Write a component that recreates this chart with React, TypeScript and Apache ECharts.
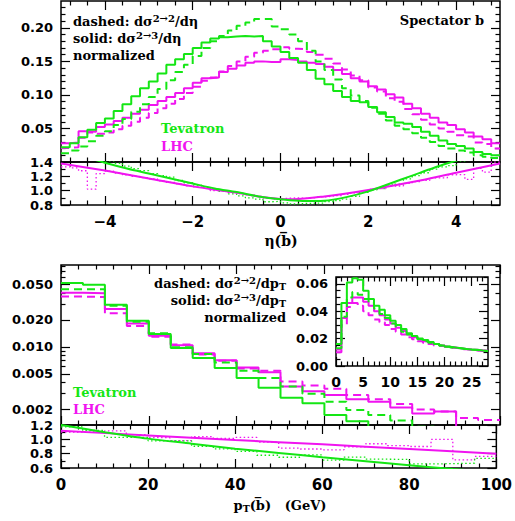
import React, { useEffect, useRef } from 'react';
import * as echarts from 'echarts';

const GREEN = '#14e614';
const MAGENTA = '#f014f0';
const SANS = 'DejaVu Sans';
const SERIF = 'DejaVu Serif';

// ---------- eta(bbar): 50 bins of 0.2 from -5 to 5 ----------
const etaLo = -5;
const etaW = 0.2;
const tevEta23 = [0.022, 0.028, 0.037, 0.048, 0.058, 0.065, 0.076, 0.086, 0.098, 0.110,
  0.120, 0.132, 0.145, 0.153, 0.161, 0.170, 0.178, 0.184, 0.186, 0.187,
  0.188, 0.187, 0.188, 0.180, 0.172, 0.164, 0.155, 0.148, 0.137, 0.124,
  0.116, 0.106, 0.097, 0.091, 0.089, 0.082, 0.074, 0.067, 0.059, 0.057,
  0.052, 0.045, 0.039, 0.032, 0.027, 0.024, 0.020, 0.015, 0.012, 0.010];
const tevEta22 = [0.013, 0.017, 0.023, 0.031, 0.039, 0.046, 0.055, 0.064, 0.075, 0.086,
  0.097, 0.109, 0.122, 0.134, 0.145, 0.158, 0.170, 0.180, 0.188, 0.196,
  0.203, 0.208, 0.213, 0.213, 0.202, 0.198, 0.190, 0.180, 0.166, 0.150,
  0.137, 0.123, 0.110, 0.099, 0.091, 0.081, 0.072, 0.062, 0.054, 0.049,
  0.043, 0.036, 0.030, 0.024, 0.020, 0.017, 0.014, 0.010, 0.008, 0.006];
const lhcEta23 = [0.028, 0.029, 0.046, 0.045, 0.052, 0.056, 0.061, 0.066, 0.072, 0.078,
  0.085, 0.091, 0.097, 0.103, 0.110, 0.118, 0.125, 0.126, 0.134, 0.139,
  0.144, 0.148, 0.150, 0.149, 0.149, 0.153, 0.152, 0.150, 0.148, 0.146,
  0.142, 0.137, 0.131, 0.125, 0.120, 0.113, 0.108, 0.101, 0.096, 0.087,
  0.080, 0.072, 0.066, 0.059, 0.055, 0.049, 0.044, 0.038, 0.034, 0.028];
const lhcEta22 = [0.021, 0.022, 0.036, 0.044, 0.042, 0.044, 0.049, 0.054, 0.060, 0.066,
  0.073, 0.080, 0.087, 0.094, 0.103, 0.112, 0.121, 0.126, 0.135, 0.143,
  0.150, 0.157, 0.163, 0.166, 0.168, 0.171, 0.169, 0.168, 0.164, 0.160,
  0.154, 0.147, 0.138, 0.129, 0.122, 0.111, 0.105, 0.095, 0.090, 0.079,
  0.071, 0.063, 0.056, 0.050, 0.045, 0.040, 0.038, 0.029, 0.027, 0.020];
const tevEtaFitX = [-5, -4.5, -4, -3.5, -3, -2.5, -2, -1.5, -1, -0.5, 0, 0.5, 1, 1.5, 2, 2.5, 3, 3.5, 4, 4.5, 5];
const tevEtaFitY = [1.58, 1.48, 1.39, 1.31, 1.24, 1.17, 1.10, 1.03, 0.98, 0.92, 0.88, 0.855, 0.86, 0.91, 0.99, 1.10, 1.21, 1.32, 1.42, 1.52, 1.62];
const lhcEtaFitX = [-5, -4, -3, -2, -1, -0.5, 0, 0.3, 1, 2, 3, 4, 5];
const lhcEtaFitY = [1.38, 1.28, 1.17, 1.06, 0.97, 0.92, 0.885, 0.88, 0.92, 1.01, 1.12, 1.25, 1.38];

// ---------- pT(bbar): 20 bins of 5 GeV ----------
const ptLo = 0;
const ptW = 5;
const tevPt23 = [0.0517, 0.0495, 0.0296, 0.0196, 0.0139, 0.0097, 0.0075, 0.0058, 0.0045, 0.0035,
  0.0027, 0.00235, 0.00173, 0.00148, 0.00125, 0.00108, 0.00084, 0.00078, 0.00072, 0.00072];
const tevPt22 = [0.0440, 0.0440, 0.0288, 0.0191, 0.0142, 0.0099, 0.0083, 0.0067, 0.0054, 0.0045,
  0.0036, 0.0030, 0.00244, 0.00197, 0.00173, 0.0015, 0.00128, 0.00118, 0.00108, 0.00098];
const lhcPt23 = [0.0402, 0.0397, 0.0265, 0.0182, 0.0133, 0.0104, 0.0085, 0.0071, 0.0059, 0.0052,
  0.0036, 0.0032, 0.0029, 0.0026, 0.00244, 0.0021, 0.0018, 0.0019, 0.00114, 0.00116];
const lhcPt22 = [0.0365, 0.0360, 0.0237, 0.0171, 0.0130, 0.0106, 0.0082, 0.0070, 0.00575, 0.0054,
  0.0041, 0.0037, 0.0034, 0.0029, 0.0026, 0.0023, 0.0020, 0.0019, 0.0016, 0.00152];
const tevPtFitX = [0, 10, 20, 30, 40, 50, 60, 70, 80, 90, 100];
const tevPtFitY = [1.20, 1.10, 1.01, 0.94, 0.87, 0.81, 0.75, 0.695, 0.64, 0.585, 0.54];
const lhcPtFitX = [0, 20, 40, 60, 80, 100];
const lhcPtFitY = [1.12, 1.055, 0.99, 0.93, 0.865, 0.80];
const ptLogMin = 0.00134;
const ptLogMax = 0.0822;
const ptMajorTicks = [0.002, 0.005, 0.01, 0.02, 0.05];
const ptMinorTicks = [0.003, 0.004, 0.006, 0.007, 0.008, 0.009, 0.03, 0.04, 0.06, 0.07, 0.08];

// ---------- inset: 28 bins of 1 GeV ----------
const insLo = 0;
const insW = 1;
const tevIns23 = [0.016, 0.046, 0.061, 0.064, 0.063, 0.055, 0.049, 0.044, 0.041, 0.037, 0.033, 0.030, 0.027, 0.024,
  0.022, 0.020, 0.019, 0.0175, 0.016, 0.015, 0.014, 0.0135, 0.013, 0.0125, 0.012, 0.0118, 0.0113, 0.011];
const tevIns22 = [0.013, 0.036, 0.050, 0.054, 0.052, 0.049, 0.046, 0.042, 0.038, 0.035, 0.031, 0.028, 0.025, 0.023,
  0.021, 0.0195, 0.018, 0.017, 0.016, 0.015, 0.0142, 0.0135, 0.013, 0.0125, 0.012, 0.0117, 0.0113, 0.011];
const lhcIns23 = [0.012, 0.035, 0.046, 0.050, 0.050, 0.047, 0.044, 0.040, 0.037, 0.034, 0.031, 0.028, 0.0255, 0.023,
  0.021, 0.0195, 0.018, 0.017, 0.016, 0.015, 0.014, 0.0135, 0.013, 0.0125, 0.012, 0.0118, 0.0115, 0.0112];
const lhcIns22 = [0.010, 0.030, 0.043, 0.046, 0.044, 0.040, 0.037, 0.034, 0.032, 0.030, 0.027, 0.025, 0.023, 0.021,
  0.0195, 0.018, 0.017, 0.016, 0.015, 0.0145, 0.014, 0.0133, 0.0128, 0.0122, 0.0118, 0.0114, 0.011, 0.0108];

// ---------- helpers ----------
function ticks(a: number, b: number, step: number, skip: number[] = []) {
  const out: number[] = [];
  const n = Math.round((b - a) / step);
  for (let i = 0; i <= n; i++) {
    const v = +(a + i * step).toFixed(6);
    if (!skip.some((s) => Math.abs(s - v) < 1e-9)) out.push(v);
  }
  return out;
}

const TICK = { color: '#000', width: 1.2 };

function addAxes(list: any[], grid: number, dim: 'x' | 'y', min: number, max: number,
  majors: number[], minors: number[], label: any) {
  const first = list.length;
  const sides = dim === 'x' ? ['bottom', 'top'] : ['left', 'right'];
  sides.forEach((pos, si) => {
    const defs: [number[], number][] = [[majors, 9], [minors, 4.5]];
    defs.forEach(([vals, len], ti) => {
      list.push({
        type: 'value', gridIndex: grid, min, max, position: pos,
        axisLine: { show: false, onZero: false },
        splitLine: { show: false },
        axisTick: { show: vals.length > 0, inside: true, length: len, customValues: vals, lineStyle: TICK },
        axisLabel: si === 0 && ti === 0 && label
          ? { show: true, customValues: majors, color: '#000', fontFamily: SANS, fontWeight: 'bold', ...label }
          : { show: false },
      });
    });
  });
  return first;
}

function stepPts(lo: number, w: number, vals: number[], tf: (v: number) => number = (v) => v) {
  const pts = vals.map((v, i) => [+(lo + i * w).toFixed(6), tf(v)]);
  pts.push([+(lo + vals.length * w).toFixed(6), tf(vals[vals.length - 1])]);
  return pts;
}

function ser(xi: number, yi: number, data: number[][], color: string, kind: 'solid' | 'dash' | 'dot' | 'fit') {
  return {
    type: 'line', xAxisIndex: xi, yAxisIndex: yi, data,
    step: kind === 'fit' ? false : 'end',
    smooth: kind === 'fit' ? 0.3 : false,
    showSymbol: false, symbol: 'none', silent: true, clip: true,
    lineStyle: {
      color, width: kind === 'dot' ? 1.3 : 2,
      type: kind === 'dash' ? [8, 5] : kind === 'dot' ? [1.5, 2.5] : 'solid',
    },
  };
}

const minus = (v: number) => (v < 0 ? '\u2212' + Math.abs(v) : String(v));

function richFor(color: string) {
  return {
    t: { fontFamily: SERIF, fontWeight: 'bold', fontSize: 13, lineHeight: 16, fill: color, color },
    s: { fontFamily: SERIF, fontWeight: 'bold', fontSize: 10, lineHeight: 10, verticalAlign: 'top', fill: color, color },
    b: { fontFamily: SERIF, fontWeight: 'bold', fontSize: 9.5, lineHeight: 9, verticalAlign: 'bottom', fill: color, color },
    x: { fontFamily: SERIF, fontWeight: 'bold', fontSize: 14, lineHeight: 18, fill: color, color },
  };
}

function txt(x: number, y: number, text: string, align: string, color = '#000') {
  return {
    type: 'text', x, y, silent: true, z: 100,
    style: {
      text, fill: color, align, verticalAlign: 'middle', textAlign: align, textVerticalAlign: 'middle',
      font: `bold 13px "${SERIF}"`, rich: richFor(color),
    },
  };
}

export default function App() {
  const ref = useRef<HTMLDivElement>(null);
  useEffect(() => {
    if (!ref.current) return;
    const chart = echarts.init(ref.current, undefined, { renderer: 'svg' });
    const xAxes: any[] = [];
    const yAxes: any[] = [];
    const lg = Math.log10;

    const etaMaj = [-4, -2, 0, 2, 4];
    const etaMin = ticks(-4.8, 4.8, 0.4, etaMaj);
    const ptMaj = [0, 20, 40, 60, 80, 100];
    const ptMin = ticks(0, 100, 4, ptMaj);

    // grid 0: eta main
    const x0 = addAxes(xAxes, 0, 'x', -5, 5, etaMaj, etaMin, null);
    const y0 = addAxes(yAxes, 0, 'y', 0, 0.24, [0.05, 0.1, 0.15, 0.2], ticks(0.01, 0.23, 0.01, [0.05, 0.1, 0.15, 0.2]),
      { fontSize: 13, margin: 8, formatter: (v: number) => v.toFixed(2) });
    // grid 1: eta ratio
    const x1 = addAxes(xAxes, 1, 'x', -5, 5, etaMaj, etaMin, { fontSize: 15, margin: 9, formatter: minus });
    const y1 = addAxes(yAxes, 1, 'y', 0.8, 1.4, [0.8, 1.0, 1.2, 1.4], [0.9, 1.1, 1.3],
      { fontSize: 13, margin: 8, formatter: (v: number) => v.toFixed(1) });
    // grid 2: pT main (log)
    const x2 = addAxes(xAxes, 2, 'x', 0, 100, ptMaj, ptMin, null);
    const y2 = addAxes(yAxes, 2, 'y', lg(ptLogMin), lg(ptLogMax), ptMajorTicks.map(lg), ptMinorTicks.map(lg),
      { fontSize: 13, margin: 8, formatter: (v: number) => Math.pow(10, v).toFixed(3) });
    // grid 3: pT ratio
    const x3 = addAxes(xAxes, 3, 'x', 0, 100, ptMaj, ptMin, { fontSize: 15, margin: 9, formatter: (v: number) => String(v) });
    const y3 = addAxes(yAxes, 3, 'y', 0.6, 1.2, [0.6, 0.8, 1.0, 1.2], [0.7, 0.9, 1.1],
      { fontSize: 13, margin: 8, formatter: (v: number) => v.toFixed(1) });
    // grid 4: inset
    const x4 = addAxes(xAxes, 4, 'x', 0, 28, [0, 5, 10, 15, 20, 25], ticks(1, 27, 1, [5, 10, 15, 20, 25]),
      { fontSize: 14, margin: 9, formatter: (v: number) => String(v) });
    const y4 = addAxes(yAxes, 4, 'y', 0, 0.065, [0, 0.02, 0.04, 0.06], ticks(0.005, 0.065, 0.005, [0.02, 0.04, 0.06]),
      { fontSize: 13, margin: 8, formatter: (v: number) => v.toFixed(2) });

    const ratio = (a: number[], b: number[]) => a.map((v, i) => v / b[i]);
    const fit = (xs: number[], ys: number[]) => xs.map((x, i) => [x, ys[i]]);

    const series: any[] = [
      // eta main
      ser(x0, y0, stepPts(etaLo, etaW, lhcEta22), MAGENTA, 'dash'),
      ser(x0, y0, stepPts(etaLo, etaW, lhcEta23), MAGENTA, 'solid'),
      ser(x0, y0, stepPts(etaLo, etaW, tevEta22), GREEN, 'dash'),
      ser(x0, y0, stepPts(etaLo, etaW, tevEta23), GREEN, 'solid'),
      // eta ratio
      ser(x1, y1, stepPts(etaLo, etaW, ratio(lhcEta23, lhcEta22)), MAGENTA, 'dot'),
      ser(x1, y1, stepPts(etaLo, etaW, ratio(tevEta23, tevEta22)), GREEN, 'dot'),
      ser(x1, y1, fit(lhcEtaFitX, lhcEtaFitY), MAGENTA, 'fit'),
      ser(x1, y1, fit(tevEtaFitX, tevEtaFitY), GREEN, 'fit'),
      // pT main
      ser(x2, y2, stepPts(ptLo, ptW, lhcPt22, lg), MAGENTA, 'dash'),
      ser(x2, y2, stepPts(ptLo, ptW, lhcPt23, lg), MAGENTA, 'solid'),
      ser(x2, y2, stepPts(ptLo, ptW, tevPt22, lg), GREEN, 'dash'),
      ser(x2, y2, stepPts(ptLo, ptW, tevPt23, lg), GREEN, 'solid'),
      // pT ratio
      ser(x3, y3, stepPts(ptLo, ptW, ratio(lhcPt23, lhcPt22)), MAGENTA, 'dot'),
      ser(x3, y3, stepPts(ptLo, ptW, ratio(tevPt23, tevPt22)), GREEN, 'dot'),
      ser(x3, y3, fit(lhcPtFitX, lhcPtFitY), MAGENTA, 'fit'),
      ser(x3, y3, fit(tevPtFitX, tevPtFitY), GREEN, 'fit'),
      // inset
      ser(x4, y4, stepPts(insLo, insW, lhcIns22), MAGENTA, 'dash'),
      ser(x4, y4, stepPts(insLo, insW, lhcIns23), MAGENTA, 'solid'),
      ser(x4, y4, stepPts(insLo, insW, tevIns22), GREEN, 'dash'),
      ser(x4, y4, stepPts(insLo, insW, tevIns23), GREEN, 'solid'),
    ];

    const frame = { show: true, borderColor: '#000', borderWidth: 1.5, backgroundColor: 'transparent' };
    chart.setOption({
      animation: false,
      backgroundColor: '#fff',
      grid: [
        { left: 61, top: 1, width: 439, height: 161, ...frame },
        { left: 61, top: 162, width: 439, height: 43, ...frame },
        { left: 61, top: 265, width: 439, height: 160, ...frame },
        { left: 61, top: 425, width: 439, height: 43, ...frame },
        { left: 336, top: 277, width: 152, height: 89, ...frame, backgroundColor: '#fff' },
      ],
      xAxis: xAxes,
      yAxis: yAxes,
      series,
      graphic: [
        txt(73, 21, '{t|dashed: d\u03c3}{s|2\u21922}{t|/d\u03b7}', 'left'),
        txt(73, 38, '{t|solid: d\u03c3}{s|2\u21923}{t|/d\u03b7}', 'left'),
        txt(73, 55, '{t|normalized}', 'left'),
        txt(484, 20, '{t|Spectator b}', 'right'),
        txt(161, 128, '{t|Tevatron}', 'left', GREEN),
        txt(161, 146, '{t|LHC}', 'left', MAGENTA),
        txt(281, 241, '{x|\u03b7(b\u0305)}', 'center'),
        txt(286, 283, '{t|dashed: d\u03c3}{s|2\u21922}{t|/dp}{b|T}', 'right'),
        txt(286, 300, '{t|solid: d\u03c3}{s|2\u21923}{t|/dp}{b|T}', 'right'),
        txt(286, 317, '{t|normalized}', 'right'),
        txt(73, 392, '{t|Tevatron}', 'left', GREEN),
        txt(73, 409, '{t|LHC}', 'left', MAGENTA),
        txt(280, 505, '{t|p}{b|T}{t|(b\u0305)   (GeV)}', 'center'),
      ],
    });
    return () => chart.dispose();
  }, []);
  return (
    <div
      ref={ref}
      style={{ position: 'absolute', left: 0, top: 0, width: 515, height: 521, background: '#fff' }}
    />
  );
}
